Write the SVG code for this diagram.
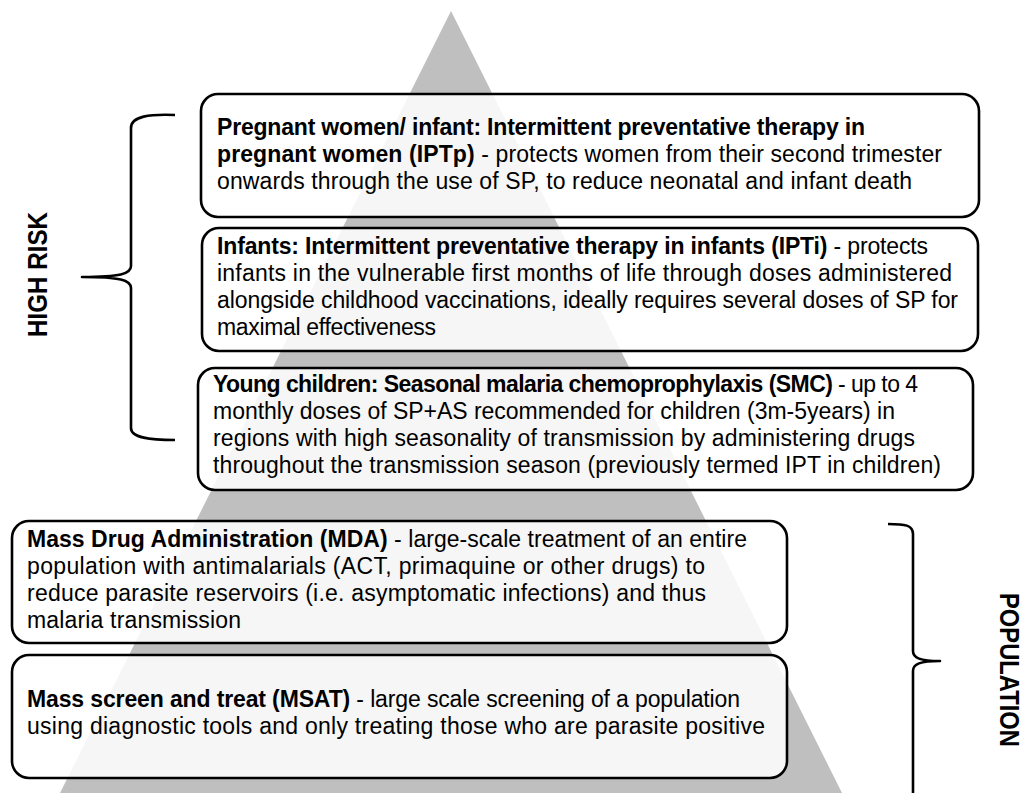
<svg xmlns="http://www.w3.org/2000/svg" width="1023" height="793" viewBox="0 0 1023 793">
  <style>
    .box { fill: #ffffff; fill-opacity: 0.86; stroke: #000000; stroke-width: 2.6; }
    .txt { font-family: "Liberation Sans", Arial, sans-serif; font-size: 23px; fill: #000000; }
    .b { font-weight: bold; }
    .brace { fill: none; stroke: #000000; stroke-width: 2.6; stroke-linejoin: round; stroke-linecap: butt; }
    .side { font-family: "Liberation Sans", Arial, sans-serif; font-size: 27px; font-weight: bold; fill: #000000; }
  </style>
  <rect width="1023" height="793" fill="#ffffff"/>

  <g id="pyramid">
    <polygon points="451,11 57,799 845,799" fill="#bfbfbf"/>
  </g>

  <g id="connectors">
    <path class="brace" d="M175,115 C150,114 131,116 131,128 L131,266 C131,274 120,277 82,277 C120,277 131,280 131,288 L131,428 C131,438 150,440 175,440"/>
    <path class="brace" d="M888,524 C905,524 913,525 913,534 L913,651 C913,658 920,661 940,661 C920,661 913,664 913,671 L913,800"/>
  </g>

  <g id="label-high-risk">
    <text class="side" transform="translate(47,274.5) rotate(-90)" text-anchor="middle" textLength="125" lengthAdjust="spacingAndGlyphs">HIGH RISK</text>
  </g>
  <g id="label-population">
    <text class="side" transform="translate(1000,670) rotate(90)" text-anchor="middle" textLength="154" lengthAdjust="spacingAndGlyphs">POPULATION</text>
  </g>

  <g id="box-iptp">
    <rect class="box" x="201" y="94" width="778" height="123" rx="17"/>
    <text class="txt b" x="217" y="135" textLength="648">Pregnant women/ infant: Intermittent preventative therapy in</text>
    <text class="txt" x="217" y="162" textLength="725"><tspan class="b">pregnant women (IPTp)</tspan> - protects women from their second trimester</text>
    <text class="txt" x="217" y="189" textLength="695">onwards through the use of SP, to reduce neonatal and infant death</text>
  </g>

  <g id="box-ipti">
    <rect class="box" x="202" y="228" width="776" height="123" rx="17"/>
    <text class="txt" x="217" y="254" textLength="711"><tspan class="b">Infants: Intermittent preventative therapy in infants (IPTi)</tspan> - protects</text>
    <text class="txt" x="217" y="281" textLength="735">infants in the vulnerable first months of life through doses administered</text>
    <text class="txt" x="217" y="308" textLength="741">alongside childhood vaccinations, ideally requires several doses of SP for</text>
    <text class="txt" x="217" y="335" textLength="219">maximal effectiveness</text>
  </g>

  <g id="box-smc">
    <rect class="box" x="198" y="368" width="775" height="122" rx="17"/>
    <text class="txt" x="213" y="392" textLength="705"><tspan class="b">Young children: Seasonal malaria chemoprophylaxis (SMC)</tspan> - up to 4</text>
    <text class="txt" x="213" y="419" textLength="682">monthly doses of SP+AS recommended for children (3m-5years) in</text>
    <text class="txt" x="213" y="446" textLength="702">regions with high seasonality of transmission by administering drugs</text>
    <text class="txt" x="213" y="473" textLength="728">throughout the transmission season (previously termed IPT in children)</text>
  </g>

  <g id="box-mda">
    <rect class="box" x="12" y="521" width="775" height="122" rx="17"/>
    <text class="txt" x="27" y="547" textLength="720"><tspan class="b">Mass Drug Administration (MDA)</tspan> - large-scale treatment of an entire</text>
    <text class="txt" x="27" y="574" textLength="678">population with antimalarials (ACT, primaquine or other drugs) to</text>
    <text class="txt" x="27" y="601" textLength="679">reduce parasite reservoirs (i.e. asymptomatic infections) and thus</text>
    <text class="txt" x="27" y="628" textLength="214">malaria transmission</text>
  </g>

  <g id="box-msat">
    <rect class="box" x="12" y="655" width="775" height="123" rx="17"/>
    <text class="txt" x="27" y="707" textLength="713"><tspan class="b">Mass screen and treat (MSAT)</tspan> - large scale screening of a population</text>
    <text class="txt" x="27" y="734" textLength="738">using diagnostic tools and only treating those who are parasite positive</text>
  </g>
</svg>
